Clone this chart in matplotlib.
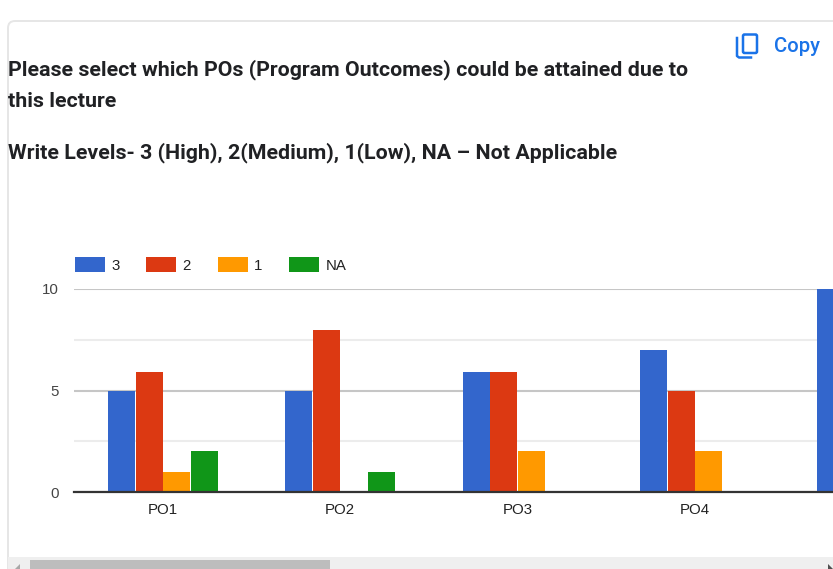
import matplotlib
matplotlib.use("Agg")
import matplotlib.pyplot as plt
from matplotlib.patches import Rectangle, FancyBboxPatch, Polygon
from matplotlib.lines import Line2D
import numpy as np

categories = ["PO1", "PO2", "PO3", "PO4", "PO5"]
series_names = ["3", "2", "1", "NA"]
s3 = [5, 5, 5.9, 7, 10]
s2 = [5.9, 8, 5.9, 5, 0]
s1 = [1, 0, 2, 2, 0]
sNA = [2, 1, 0, 0, 0]
colors = ["#3366cc", "#dc3912", "#ff9900", "#109618"]
title_lines = ["Please select which POs (Program Outcomes) could be attained due to",
               "this lecture",
               "Write Levels- 3 (High), 2(Medium), 1(Low), NA \u2013 Not Applicable"]
yticks = [0, 5, 10]
minor_yticks = [2.5, 7.5]

W, H = 833, 569
fig = plt.figure(figsize=(W / 100, H / 100), dpi=100, facecolor="white")

# page overlay in pixel coordinates
bg = fig.add_axes([0, 0, 1, 1], zorder=0)
bg.set_xlim(0, W); bg.set_ylim(H, 0); bg.axis("off")
bg.add_patch(FancyBboxPatch((8, 21), 900, 700, boxstyle="round,pad=0,rounding_size=7",
                            fc="white", ec="#e6e6e6", lw=1.4))
bg.add_patch(Rectangle((8, 557), W, 12, fc="#efefef", ec="none"))
bg.add_patch(Rectangle((30, 560), 300, 9, fc="#bdbdbd", ec="none"))
bg.add_patch(Polygon([[15, 569], [20, 564], [20, 569]], fc="#a8a8a8", ec="none"))
bg.add_patch(Polygon([[828, 569], [828, 564], [833, 569]], fc="#505050", ec="none"))

# copy icon
blue = "#1a73e8"
bg.add_patch(FancyBboxPatch((743, 34.5), 14, 18.5, boxstyle="round,pad=0,rounding_size=1.5",
                            fc="none", ec=blue, lw=1.8))
bg.add_line(Line2D([737, 737, 739, 751], [38, 56, 57.5, 57.5], color=blue, lw=1.8))
bg.text(774, 46.5, "Copy", color=blue, family="Roboto", fontsize=14.6, weight="medium",
        va="center", ha="left")

for txt, y in zip(title_lines, [70, 101, 153]):
    bg.text(8, y, txt, color="#202124", family="Roboto", fontsize=15.4, weight="bold",
            va="center", ha="left")

# chart
x0, x1, y10, y0 = 74, 833, 289, 492
ax = fig.add_axes([x0 / W, 1 - (y0 + 0) / H, (x1 - x0) / W, (y0 - y10) / H], zorder=1)
ax.patch.set_alpha(0)
unit = 177.3
ax.set_xlim((x0 - 163) / unit, (x1 - 163) / unit)
ax.set_ylim(0, 10)
x = np.arange(len(categories))
pitch = 27.6 / unit
width = 26.9 / unit
handles = []
for i, (vals, c, name) in enumerate(zip([s3, s2, s1, sNA], colors, series_names)):
    b = ax.bar(x + (i - 1.5) * pitch, vals, width, color=c, label=name, zorder=3)
    handles.append(b)

ax.set_yticks(yticks)
ax.set_yticks(minor_yticks, minor=True)
ax.set_xticks(x[:4])
ax.set_xticklabels(categories[:4])
ax.grid(axis="y", which="major", color="#c6c6c6", lw=1.5, zorder=1)
ax.grid(axis="y", which="minor", color="#ececec", lw=1.5, zorder=1)
ax.set_axisbelow(True)
for side in ["top", "right", "left"]:
    ax.spines[side].set_visible(False)
ax.spines["bottom"].set_color("#333333")
ax.spines["bottom"].set_linewidth(1.6)
ax.spines["bottom"].set_zorder(5)
ax.tick_params(axis="both", which="both", length=0)
ax.tick_params(axis="x", pad=8, labelsize=10.8, labelcolor="#222222")
ax.tick_params(axis="y", pad=11, labelsize=10.8, labelcolor="#444444")
for t in ax.get_xticklabels() + ax.get_yticklabels():
    t.set_family("Liberation Sans")

leg = ax.legend(handles=handles, labels=series_names, ncols=4, frameon=False,
                loc="lower left", bbox_to_anchor=((75 - x0) / (x1 - x0), (y0 - 272.5) / (y0 - y10)),
                borderaxespad=0, borderpad=0, handlelength=2.0, handleheight=1.2,
                handletextpad=0.42, columnspacing=1.78,
                prop={"family": "Liberation Sans", "size": 10.8})
for t in leg.get_texts():
    t.set_color("#222222")

fig.savefig("out.png", dpi=100)
